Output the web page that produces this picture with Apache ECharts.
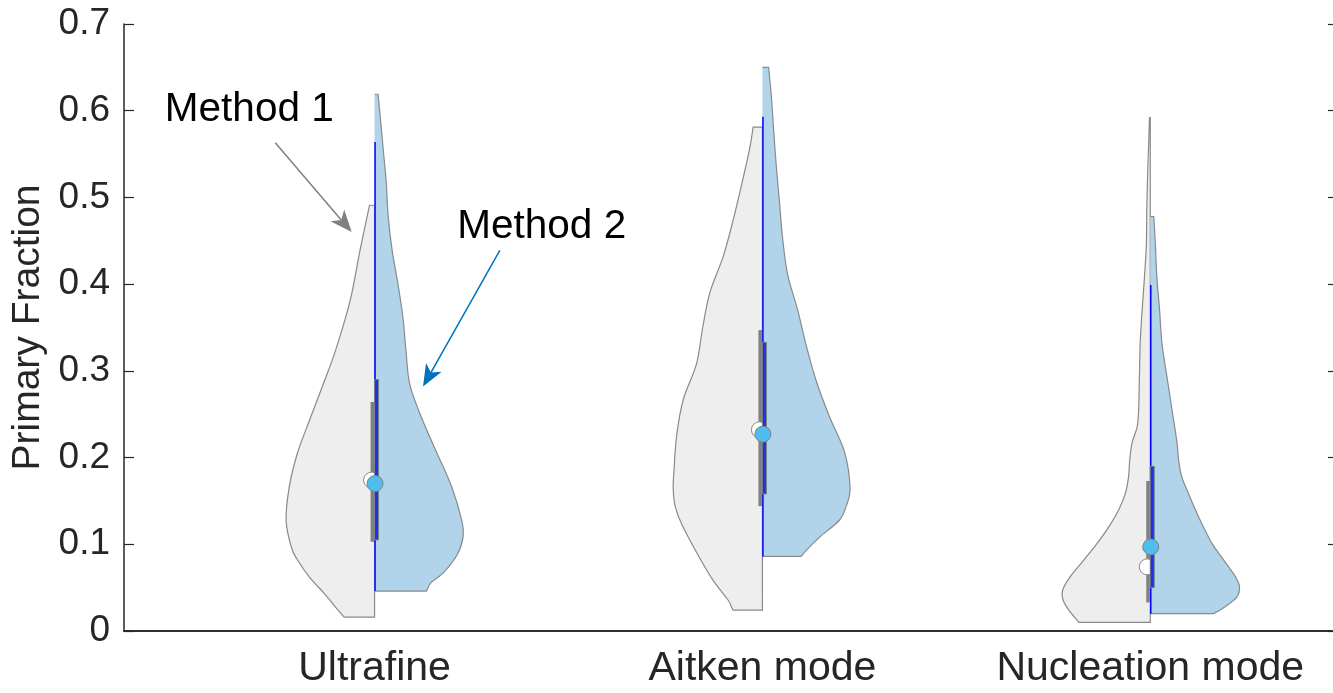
<!DOCTYPE html>
<html>
<head>
<meta charset="utf-8">
<script src="https://cdn.jsdelivr.net/npm/echarts@6/dist/echarts.min.js"></script>
<style>html,body{margin:0;padding:0;background:#fff}#c{width:1333px;height:693px}</style>
</head>
<body>
<div id="c"></div>
<script>
// ---------------- data ----------------
const categories = ['Ultrafine', 'Aitken mode', 'Nucleation mode'];
const yTicks = [0, 0.1, 0.2, 0.3, 0.4, 0.5, 0.6, 0.7];

// Method 1 (grey, left half) violin outline: y values (top→bottom) and half-widths (x units)
const m1ViolinY = [
  [0.491, 0.440, 0.381, 0.323, 0.284, 0.245, 0.205, 0.166, 0.127, 0.096, 0.083, 0.062, 0.044, 0.024, 0.016],
  [0.581, 0.556, 0.514, 0.473, 0.432, 0.391, 0.350, 0.308, 0.267, 0.226, 0.185, 0.164, 0.144, 0.123, 0.090, 0.059, 0.036, 0.028, 0.024],
  [0.592, 0.563, 0.524, 0.486, 0.447, 0.408, 0.370, 0.332, 0.293, 0.255, 0.235, 0.217, 0.197, 0.178, 0.159, 0.140, 0.120, 0.101, 0.082, 0.063, 0.047, 0.036, 0.024, 0.010]
];
const m1ViolinW = [
  [0.013, 0.037, 0.063, 0.101, 0.133, 0.166, 0.199, 0.220, 0.228, 0.214, 0.200, 0.168, 0.131, 0.094, 0.078],
  [0.024, 0.033, 0.054, 0.076, 0.101, 0.135, 0.154, 0.170, 0.204, 0.221, 0.228, 0.230, 0.225, 0.208, 0.169, 0.128, 0.089, 0.080, 0.076],
  [0.002, 0.004, 0.007, 0.009, 0.010, 0.015, 0.021, 0.026, 0.028, 0.030, 0.034, 0.047, 0.053, 0.056, 0.064, 0.081, 0.107, 0.137, 0.171, 0.206, 0.226, 0.225, 0.210, 0.184]
];
// Method 2 (blue, right half)
const m2ViolinY = [
  [0.619, 0.596, 0.557, 0.518, 0.479, 0.440, 0.401, 0.362, 0.323, 0.284, 0.245, 0.205, 0.166, 0.127, 0.108, 0.088, 0.067, 0.056, 0.046],
  [0.650, 0.617, 0.577, 0.535, 0.494, 0.453, 0.411, 0.370, 0.329, 0.288, 0.247, 0.206, 0.164, 0.144, 0.128, 0.108, 0.093, 0.086],
  [0.478, 0.447, 0.408, 0.370, 0.332, 0.293, 0.255, 0.217, 0.197, 0.178, 0.159, 0.140, 0.120, 0.101, 0.082, 0.063, 0.051, 0.039, 0.028, 0.020]
];
const m2ViolinW = [
  [0.009, 0.014, 0.022, 0.030, 0.035, 0.045, 0.060, 0.073, 0.081, 0.091, 0.122, 0.161, 0.199, 0.225, 0.228, 0.213, 0.177, 0.146, 0.134],
  [0.016, 0.023, 0.029, 0.036, 0.044, 0.052, 0.065, 0.091, 0.113, 0.139, 0.173, 0.212, 0.226, 0.216, 0.199, 0.147, 0.113, 0.100],
  [0.009, 0.013, 0.017, 0.024, 0.030, 0.043, 0.056, 0.069, 0.073, 0.081, 0.098, 0.116, 0.137, 0.159, 0.189, 0.219, 0.230, 0.223, 0.193, 0.163]
];

// box statistics
const m1Median = [0.174, 0.232, 0.074];
const m1Q1 = [0.103, 0.144, 0.033];
const m1Q3 = [0.264, 0.347, 0.173];
const m2Median = [0.170, 0.227, 0.097];
const m2Q1 = [0.105, 0.158, 0.050];
const m2Q3 = [0.290, 0.333, 0.190];
const m2WhiskerHigh = [0.564, 0.593, 0.399];
const m2WhiskerLow = [0.046, 0.086, 0.020];

// annotations (data units)
const annotText = ['Method 1', 'Method 2'];
const annotTextX = [0.677, 1.431];
const annotTextY = [0.601, 0.466];
const arrowFromX = [0.744, 1.323];
const arrowFromY = [0.563, 0.439];
const arrowToX = [0.941, 1.125];
const arrowToY = [0.460, 0.282];
const arrowColor = ['#808080', '#0072bd'];

// ---------------- rendering ----------------
const FONT = '"Liberation Sans", Arial, Helvetica, sans-serif';
const AX = '#262626';
const xMin = 0.354, xMax = 3.484;

function curvePath(pts) {
  let d = '';
  for (let i = 0; i < pts.length - 1; i++) {
    const p0 = pts[Math.max(i - 1, 0)], p1 = pts[i], p2 = pts[i + 1], p3 = pts[Math.min(i + 2, pts.length - 1)];
    const c1x = p1[0] + (p2[0] - p0[0]) / 6, c1y = p1[1] + (p2[1] - p0[1]) / 6;
    const c2x = p2[0] - (p3[0] - p1[0]) / 6, c2y = p2[1] - (p3[1] - p1[1]) / 6;
    d += ' C' + c1x + ',' + c1y + ' ' + c2x + ',' + c2y + ' ' + p2[0] + ',' + p2[1];
  }
  return d;
}

function violinPaths(api, c, side, ys, ws) {
  const pts = ys.map((y, k) => api.coord([c + side * ws[k], y]));
  const tc = api.coord([c, ys[0]]);
  const bc = api.coord([c, ys[ys.length - 1]]);
  const open = 'M' + tc[0] + ',' + tc[1] + ' L' + pts[0][0] + ',' + pts[0][1] + curvePath(pts) + ' L' + bc[0] + ',' + bc[1];
  return { open: open, closed: open + ' Z' };
}

function renderViolin(params, api) {
  const i = params.dataIndex;
  const c = i + 1;
  const children = [];
  const g = violinPaths(api, c, -1, m1ViolinY[i], m1ViolinW[i]);
  const b = violinPaths(api, c, 1, m2ViolinY[i], m2ViolinW[i]);
  const cx = api.coord([c, 0])[0];
  children.push({ type: 'path', shape: { pathData: g.closed }, style: { fill: '#eeeeee', stroke: '#8a8a8a', lineWidth: 1.2 } });
  const g3 = api.coord([c, m1Q3[i]])[1], g1 = api.coord([c, m1Q1[i]])[1];
  children.push({ type: 'rect', shape: { x: cx - 4, y: g3, width: 3.5, height: g1 - g3 }, style: { fill: '#808080' } });
  const gm = api.coord([c, m1Median[i]]);
  children.push({ type: 'circle', shape: { cx: cx - 3, cy: gm[1], r: 8 }, style: { fill: '#ffffff', stroke: '#8a8a8a', lineWidth: 1 } });
  children.push({ type: 'path', shape: { pathData: b.closed }, style: { fill: '#b1d4ea', stroke: null } });
  children.push({ type: 'path', shape: { pathData: b.open }, style: { fill: null, stroke: '#8a8a8a', lineWidth: 1.2 } });
  const wh = api.coord([c, m2WhiskerHigh[i]])[1], wl = api.coord([c, m2WhiskerLow[i]])[1];
  children.push({ type: 'line', shape: { x1: cx + 0.5, y1: wh, x2: cx + 0.5, y2: wl }, style: { stroke: '#0000ff', lineWidth: 1.5 } });
  const b3 = api.coord([c, m2Q3[i]])[1], b1 = api.coord([c, m2Q1[i]])[1];
  children.push({ type: 'rect', shape: { x: cx, y: b3, width: 4, height: b1 - b3 }, style: { fill: '#1636e6', stroke: '#808080', lineWidth: 1 } });
  const bm = api.coord([c, m2Median[i]]);
  children.push({ type: 'circle', shape: { cx: cx + 0.5, cy: bm[1], r: 8 }, style: { fill: '#4dbeee', stroke: '#808080', lineWidth: 1 } });
  return { type: 'group', children: children };
}

function renderAnnot(params, api) {
  const i = params.dataIndex;
  const p0 = api.coord([arrowFromX[i], arrowFromY[i]]);
  const p1 = api.coord([arrowToX[i], arrowToY[i]]);
  const tp = api.coord([annotTextX[i], annotTextY[i]]);
  const dx = p1[0] - p0[0], dy = p1[1] - p0[1];
  const L = Math.sqrt(dx * dx + dy * dy);
  const ux = dx / L, uy = dy / L, nx = -uy, ny = ux;
  const hl = 22, hw = 9, notch = 16;
  const base = [p1[0] - ux * hl, p1[1] - uy * hl];
  const inner = [p1[0] - ux * notch, p1[1] - uy * notch];
  const col = arrowColor[i];
  return {
    type: 'group',
    children: [
      { type: 'line', shape: { x1: p0[0], y1: p0[1], x2: inner[0], y2: inner[1] }, style: { stroke: col, lineWidth: 1.5 } },
      { type: 'polygon', shape: { points: [p1, [base[0] + nx * hw, base[1] + ny * hw], inner, [base[0] - nx * hw, base[1] - ny * hw]] }, style: { fill: col } },
      { type: 'text', style: { text: annotText[i], x: tp[0], y: tp[1], align: 'center', verticalAlign: 'middle', font: '40.5px ' + FONT, fill: '#000000' } }
    ]
  };
}

const chart = echarts.init(document.getElementById('c'), null, { renderer: 'canvas' });
chart.setOption({
  animation: false,
  backgroundColor: '#ffffff',
  grid: { left: 124, top: 24, width: 1214, height: 607, containLabel: false, outerBoundsMode: 'none' },
  xAxis: [
    {
      type: 'value', min: xMin, max: xMax, position: 'bottom',
      axisLine: { show: true, lineStyle: { color: AX, width: 1.5 } },
      axisTick: { show: false },
      splitLine: { show: false },
      axisLabel: {
        customValues: [1, 2, 3],
        formatter: v => categories[Math.round(v) - 1] || '',
        fontSize: 41, fontFamily: FONT, color: AX, margin: 17
      }
    },
    {
      type: 'value', min: xMin, max: xMax, position: 'top',
      axisLine: { show: true, lineStyle: { color: AX, width: 1.5 } },
      axisTick: { show: false }, axisLabel: { show: false }, splitLine: { show: false }
    }
  ],
  yAxis: [
    {
      type: 'value', min: yTicks[0], max: yTicks[yTicks.length - 1], interval: 0.1, position: 'left',
      name: 'Primary Fraction', nameLocation: 'middle', nameGap: 74, nameRotate: 90,
      nameTextStyle: { fontSize: 39, fontFamily: FONT, color: AX },
      axisLine: { show: true, lineStyle: { color: AX, width: 1.5 } },
      axisTick: { show: true, inside: true, length: 10, lineStyle: { color: AX, width: 1.2 } },
      splitLine: { show: false },
      axisLabel: { formatter: v => (Math.abs(v) < 1e-9 ? '0' : v.toFixed(1)), fontSize: 37, fontFamily: FONT, color: AX, margin: 14 }
    },
    {
      type: 'value', min: yTicks[0], max: yTicks[yTicks.length - 1], interval: 0.1, position: 'right',
      axisLine: { show: true, lineStyle: { color: AX, width: 1.5 } },
      axisTick: { show: true, inside: true, length: 10, lineStyle: { color: AX, width: 1.2 } },
      axisLabel: { show: false }, splitLine: { show: false }
    }
  ],
  series: [
    {
      type: 'custom', coordinateSystem: 'cartesian2d', xAxisIndex: 0, yAxisIndex: 0,
      renderItem: renderViolin,
      data: categories.map((_, i) => [i + 1, 0]),
      encode: { x: 0, y: 1 }, clip: false, silent: true
    },
    {
      type: 'custom', coordinateSystem: 'cartesian2d', xAxisIndex: 0, yAxisIndex: 0,
      renderItem: renderAnnot,
      data: annotText.map((_, i) => [arrowFromX[i], arrowFromY[i]]),
      encode: { x: 0, y: 1 }, clip: false, silent: true
    }
  ]
});
</script>
</body>
</html>
